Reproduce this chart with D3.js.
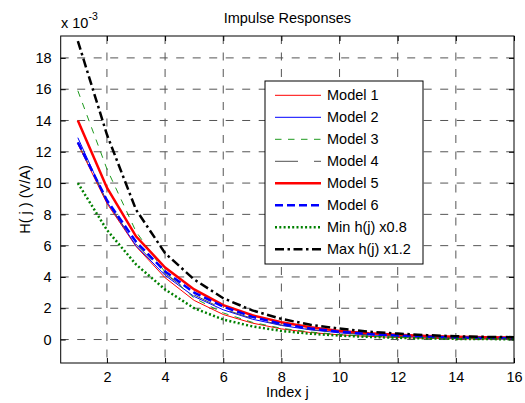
<!DOCTYPE html>
<html><head><meta charset="utf-8">
<script src="https://cdn.jsdelivr.net/npm/d3@7"></script>
<style>
body{margin:0;background:#fff;}
svg{display:block;font-family:"Liberation Sans",Arial,sans-serif;}
</style></head>
<body>
<svg id="c" width="525" height="403"></svg>
<script>
const idx = [1,2,3,4,5,6,7,8,9,10,11,12,13,14,15,16];
const model1 = [12.5,8.7,5.95,3.95,2.5,1.6,1.05,0.68,0.45,0.3,0.2,0.13,0.08,0.05,0.03,0.02];
const model2 = [12.9,8.8,6.0,4.1,2.75,1.9,1.3,0.9,0.62,0.43,0.3,0.21,0.15,0.11,0.08,0.06];
const model3 = [15.9,10.9,6.9,4.3,2.65,1.7,1.1,0.72,0.48,0.32,0.22,0.15,0.1,0.07,0.05,0.04];
const model4 = [12.6,8.8,6.1,4.2,2.85,1.95,1.35,0.93,0.64,0.45,0.32,0.22,0.16,0.11,0.08,0.06];
const model5 = [14.0,9.7,6.6,4.6,3.2,2.2,1.55,1.1,0.78,0.55,0.4,0.3,0.22,0.17,0.14,0.12];
const model6 = [12.6,8.9,6.25,4.35,3.0,2.1,1.45,1.0,0.7,0.5,0.35,0.25,0.18,0.13,0.1,0.08];
const minH = [10.0,7.0,4.8,3.2,2.0,1.28,0.84,0.55,0.37,0.25,0.17,0.11,0.07,0.04,0.03,0.02];
const maxH = [19.08,13.1,8.3,5.52,3.84,2.64,1.86,1.32,0.94,0.7,0.5,0.38,0.28,0.21,0.17,0.15];
const xTicks = [2,4,6,8,10,12,14,16];
const yTicks = [0,2,4,6,8,10,12,14,16,18];
const labels = ["Model 1","Model 2","Model 3","Model 4","Model 5","Model 6","Min h(j) x0.8","Max h(j) x1.2"];

const series = [
  {name:labels[0], v:model1, color:"#ff0000", w:1, dash:null},
  {name:labels[1], v:model2, color:"#0000ff", w:1, dash:null},
  {name:labels[2], v:model3, color:"#1e9a1e", w:1, dash:"6.5,6.5"},
  {name:labels[3], v:model4, color:"#505050", w:1, dash:"23,16"},
  {name:labels[4], v:model5, color:"#ff0000", w:2.5, dash:null},
  {name:labels[5], v:model6, color:"#0000ff", w:2.5, dash:"8,4"},
  {name:labels[6], v:minH, color:"#008000", w:2.5, dash:"2,2.3"},
  {name:labels[7], v:maxH, color:"#000000", w:2.5, dash:"9,3.5,2.5,3.5"}
];

const L=60.7, R=514, T=36, B=363;
const x = d3.scaleLinear().domain([0.41,16]).range([L,R]);
const y = d3.scaleLinear().domain([-1.5,19.4]).range([B,T]);
const svg = d3.select("#c");

// grid
const g = svg.append("g");
g.selectAll(".vg").data(xTicks.filter(t=>t<16)).enter().append("line")
  .attr("x1",d=>x(d)).attr("x2",d=>x(d)).attr("y1",T).attr("y2",B)
  .attr("stroke","#555").attr("stroke-width",1).attr("stroke-dasharray","8,8.5");
g.selectAll(".hg").data(yTicks).enter().append("line")
  .attr("x1",L).attr("x2",R).attr("y1",d=>y(d)).attr("y2",d=>y(d))
  .attr("stroke","#555").attr("stroke-width",1).attr("stroke-dasharray","8,8.5");

// lines
const line = d3.line().x((d,i)=>x(idx[i])).y(d=>y(d));
series.forEach(s=>{
  svg.append("path").datum(s.v).attr("d",line).attr("fill","none")
    .attr("stroke",s.color).attr("stroke-width",s.w)
    .attr("stroke-dasharray",s.dash);
});

// axes (inside ticks on all sides)
const axB = d3.axisBottom(x).tickValues(xTicks).tickSizeInner(-5).tickSizeOuter(0).tickPadding(9);
const axT = d3.axisTop(x).tickValues(xTicks).tickSizeInner(-5).tickSizeOuter(0).tickFormat("");
const axL = d3.axisLeft(y).tickValues(yTicks).tickSizeInner(-5).tickSizeOuter(0).tickPadding(9);
const axR = d3.axisRight(y).tickValues(yTicks).tickSizeInner(-5).tickSizeOuter(0).tickFormat("");
[[axB,`translate(0,${B})`],[axT,`translate(0,${T})`],[axL,`translate(${L},0)`],[axR,`translate(${R},0)`]].forEach(([a,tr])=>{
  const ga = svg.append("g").attr("transform",tr).call(a);
  ga.select(".domain").remove();
  ga.selectAll("line").attr("stroke","#000");
  ga.selectAll("text").attr("font-size","14.5px").attr("fill","#000").attr("font-family","Liberation Sans, Arial, sans-serif");
});
svg.append("rect").attr("x",L).attr("y",T).attr("width",R-L).attr("height",B-T)
  .attr("fill","none").attr("stroke","#000").attr("stroke-width",1);

// title & labels
svg.append("text").attr("x",(L+R)/2).attr("y",23).attr("text-anchor","middle")
  .attr("font-size","14.5px").text("Impulse Responses");
svg.append("text").attr("x",(L+R)/2).attr("y",397).attr("text-anchor","middle")
  .attr("font-size","14.5px").text("Index j");
svg.append("text").attr("transform",`translate(30,${(T+B)/2}) rotate(-90)`).attr("text-anchor","middle")
  .attr("font-size","14.5px").text("H( j ) (V/A)");
const ex = svg.append("text").attr("x",61).attr("y",27.5).attr("font-size","14.5px");
ex.append("tspan").text("x 10");
ex.append("tspan").attr("dy",-8).attr("font-size","10.5px").text("-3");

// legend
const lgX=265, lgY=81, lgW=158, lgH=183;
svg.append("rect").attr("x",lgX).attr("y",lgY).attr("width",lgW).attr("height",lgH)
  .attr("fill","#fff").attr("stroke","#000").attr("stroke-width",1);
series.forEach((s,i)=>{
  const yy = 95.3 + i*22;
  svg.append("line").attr("x1",275).attr("x2",321).attr("y1",yy).attr("y2",yy)
    .attr("stroke",s.color).attr("stroke-width",s.w).attr("stroke-dasharray",s.dash);
  svg.append("text").attr("x",327).attr("y",yy+5).attr("font-size","14.5px").text(s.name);
});
</script>
</body></html>
